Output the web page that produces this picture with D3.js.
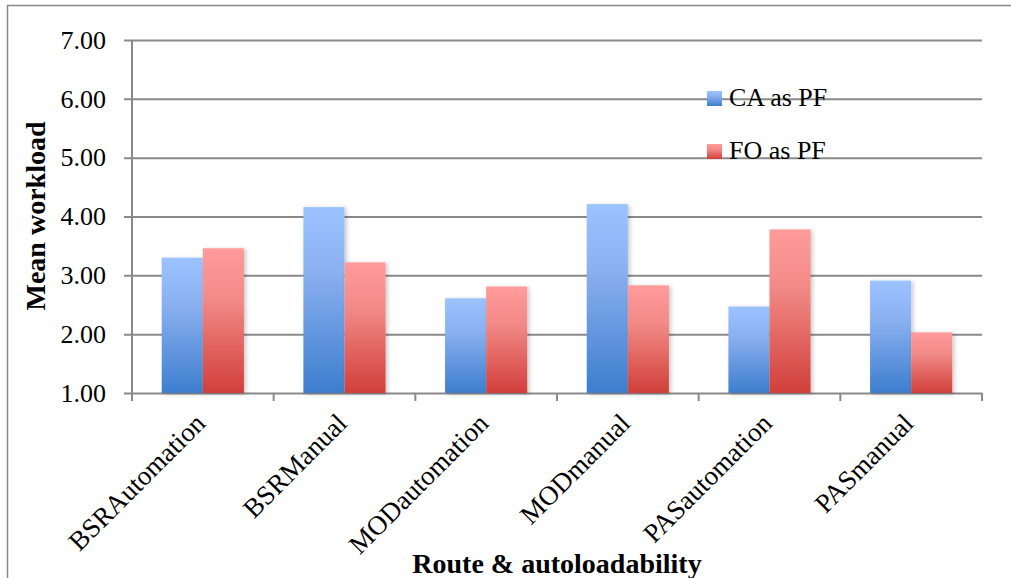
<!DOCTYPE html>
<html>
<head>
<meta charset="utf-8">
<script src="https://d3js.org/d3.v7.min.js"></script>
<style>
  html, body { margin: 0; padding: 0; background: #fff; }
  svg { display: block; }
  text { font-family: "Liberation Serif", "DejaVu Serif", serif; fill: #000; }
</style>
</head>
<body>
<svg id="chart" width="1011" height="578"></svg>
<script>
// Mean workload by route and autoloadability, for each pilot-flying role
const categories = ["BSRAutomation", "BSRManual", "MODautomation", "MODmanual", "PASautomation", "PASmanual"];
const seriesNames = ["CA as PF", "FO as PF"];
const caAsPF = [3.30, 4.16, 2.61, 4.21, 2.47, 2.91];
const foAsPF = [3.46, 3.22, 2.81, 2.83, 3.78, 2.03];
const yTicks = [1, 2, 3, 4, 5, 6, 7];

const seriesValues = [caAsPF, foAsPF];
const gradients = [
  { id: "gradBlue", top: "#9cc3ff", mid: "#8ab0f0", bottom: "#3d7ece" },
  { id: "gradRed",  top: "#ff9b9b", mid: "#f28a87", bottom: "#d13f3a" }
];
const serif = "Liberation Serif";

const svg = d3.select("#chart");
const W = 1011, H = 578;
const margin = { left: 132, right: 29, top: 40, bottom: 185 };
const plotW = W - margin.left - margin.right;
const plotH = H - margin.top - margin.bottom;

// outer frame (left and top edges)
svg.append("path")
  .attr("d", `M7.5,${H} L7.5,5.5 L${W},5.5`)
  .attr("fill", "none").attr("stroke", "#8a8a8a").attr("stroke-width", 1.5);

const defs = svg.append("defs");
gradients.forEach(g => {
  const lg = defs.append("linearGradient").attr("id", g.id)
    .attr("x1", 0).attr("y1", 0).attr("x2", 0).attr("y2", 1);
  lg.append("stop").attr("offset", "0%").attr("stop-color", g.top);
  lg.append("stop").attr("offset", "35%").attr("stop-color", g.mid);
  lg.append("stop").attr("offset", "100%").attr("stop-color", g.bottom);
});
const shadow = defs.append("filter").attr("id", "barShadow")
  .attr("x", "-20%").attr("y", "-10%").attr("width", "150%").attr("height", "130%");
shadow.append("feDropShadow").attr("dx", 2).attr("dy", 1)
  .attr("stdDeviation", 2).attr("flood-color", "#000").attr("flood-opacity", 0.22);

const g = svg.append("g").attr("transform", `translate(${margin.left},${margin.top})`);

const x = d3.scaleBand().domain(categories).range([0, plotW]).paddingInner(0.42).paddingOuter(0.21);
const x1 = d3.scaleBand().domain(seriesNames).range([0, x.bandwidth()]).padding(0);
const y = d3.scaleLinear().domain([1, 7]).range([plotH, 0]);

// horizontal gridlines with left ticks
const yAxis = d3.axisLeft(y).tickValues(yTicks).tickFormat(d3.format(".2f"))
  .tickSize(-plotW).tickSizeOuter(0).tickPadding(26);
const ya = g.append("g").call(yAxis).attr("font-family", serif);
ya.select(".domain").remove();
ya.selectAll(".tick line").attr("stroke", "#8a8a8a").attr("stroke-width", 2)
  .attr("x1", -8);
ya.selectAll(".tick text").attr("font-size", 26).attr("font-family", serif)
  .attr("fill", "#000");

// vertical axis line
g.append("line").attr("x1", 0).attr("x2", 0).attr("y1", 0).attr("y2", plotH + 8)
  .attr("stroke", "#8a8a8a").attr("stroke-width", 2);

// category boundary ticks on x axis
const step = plotW / categories.length;
const bounds = d3.range(categories.length + 1).map(i => i * step);
g.append("g").selectAll("line").data(bounds).join("line")
  .attr("x1", d => d).attr("x2", d => d).attr("y1", plotH).attr("y2", plotH + 8)
  .attr("stroke", "#8a8a8a").attr("stroke-width", 2);

// bars
const groups = g.append("g").selectAll("g").data(categories).join("g")
  .attr("transform", d => `translate(${x(d)},0)`);
groups.selectAll("rect")
  .data((c, ci) => seriesNames.map((s, si) => ({ s, si, v: seriesValues[si][ci] })))
  .join("rect")
  .attr("x", d => x1(d.s))
  .attr("width", x1.bandwidth())
  .attr("y", d => y(d.v))
  .attr("height", d => y(1) - y(d.v))
  .attr("fill", d => `url(#${gradients[d.si].id})`)
  .attr("filter", "url(#barShadow)");

// category labels, rotated
g.append("g").selectAll("text").data(categories).join("text")
  .attr("transform", d => `translate(${x(d) + x.bandwidth() / 2 + 4},${plotH + 32}) rotate(-45)`)
  .attr("text-anchor", "end")
  .attr("font-family", serif)
  .attr("font-size", 27)
  .text(d => d);

// axis titles
svg.append("text")
  .attr("transform", `translate(45,216) rotate(-90)`)
  .attr("text-anchor", "middle").attr("font-weight", "bold").attr("font-size", 28)
  .attr("font-family", serif)
  .text("Mean workload");
svg.append("text")
  .attr("x", 557).attr("y", 573)
  .attr("text-anchor", "middle").attr("font-weight", "bold").attr("font-size", 28)
  .attr("font-family", serif)
  .text("Route & autoloadability");

// legend
const legend = svg.append("g").attr("transform", "translate(707,91)");
const li = legend.selectAll("g").data(seriesNames).join("g")
  .attr("transform", (d, i) => `translate(0,${i * 53})`);
li.append("rect").attr("width", 15).attr("height", 15)
  .attr("fill", (d, i) => `url(#${gradients[i].id})`);
li.append("text").attr("x", 22).attr("y", 15).attr("font-size", 26)
  .attr("font-family", serif).text(d => d);
</script>
</body>
</html>
